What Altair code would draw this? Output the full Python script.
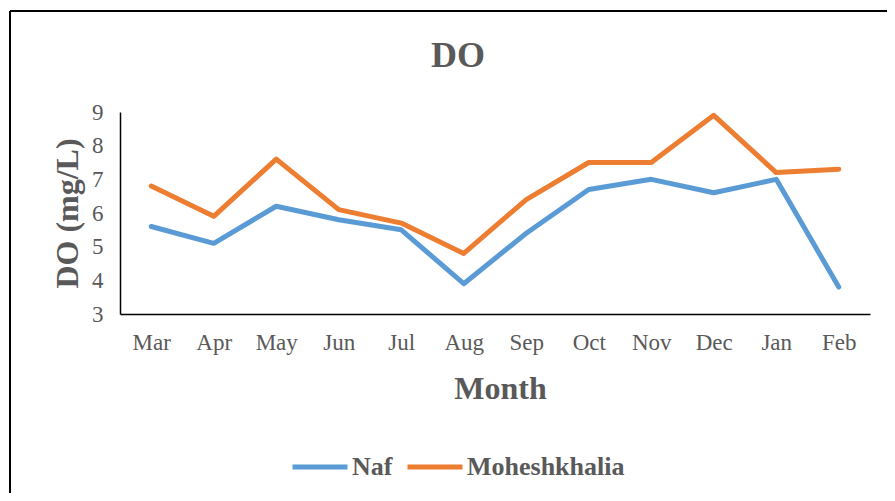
import altair as alt
import pandas as pd

months = ["Mar", "Apr", "May", "Jun", "Jul", "Aug", "Sep", "Oct", "Nov", "Dec", "Jan", "Feb"]
naf = [5.6, 5.1, 6.2, 5.8, 5.5, 3.9, 5.4, 6.7, 7.0, 6.6, 7.0, 3.8]
moheshkhalia = [6.8, 5.9, 7.6, 6.1, 5.7, 4.8, 6.4, 7.5, 7.5, 8.9, 7.2, 7.3]
series_names = ["Naf", "Moheshkhalia"]
series_colors = ["#5B9BD5", "#ED7D31"]
chart_title = "DO"

rows = []
for i, m in enumerate(months):
    rows.append({"Month": m, "Site": "Naf", "DO": naf[i], "order": i})
    rows.append({"Month": m, "Site": "Moheshkhalia", "DO": moheshkhalia[i], "order": i})
df = pd.DataFrame(rows)

FONT = "Liberation Serif"
GREY = "#595959"

lines = alt.Chart(df).mark_line(strokeWidth=5, strokeCap="round", strokeJoin="round").encode(
    x=alt.X("Month:N", sort=months, scale=alt.Scale(type="point", padding=0.5),
            axis=alt.Axis(title="Month", labelAngle=0, ticks=False, grid=False,
                          domainColor="black", domainWidth=1.5,
                          labelFont=FONT, labelFontSize=23, labelColor=GREY, labelPadding=17,
                          titleFont=FONT, titleFontSize=32, titleFontWeight="bold", titleColor=GREY,
                          titleX=380, titleY=74, titleBaseline="middle", titleAlign="center")),
    y=alt.Y("DO:Q", scale=alt.Scale(domain=[3, 9], nice=False, zero=False),
            axis=alt.Axis(title="DO (mg/L)", values=[3, 4, 5, 6, 7, 8, 9], ticks=False, grid=False,
                          domainColor="black", domainWidth=1.5,
                          labelFont=FONT, labelFontSize=23, labelColor=GREY, labelPadding=17,
                          titleFont=FONT, titleFontSize=32, titleFontWeight="bold", titleColor=GREY,
                          titleX=-53, titleY=101, titleAngle=-90, titleBaseline="middle", titleAlign="center")),
    color=alt.Color("Site:N", sort=series_names,
                    scale=alt.Scale(domain=series_names, range=series_colors),
                    legend=alt.Legend(title=None, orient="none", direction="horizontal",
                                      legendX=170, legendY=325, symbolType="stroke",
                                      symbolSize=3025, symbolStrokeWidth=5, columnPadding=4,
                                      labelFont=FONT, labelFontSize=26, labelFontWeight="bold",
                                      labelColor=GREY, labelOffset=2)),
    order="order:Q",
)

frame_data = alt.Data(values=[{"t": chart_title}])
title_text = alt.Chart(frame_data).mark_text(
    font=FONT, fontSize=36, fontWeight="bold", color=GREY, align="center", baseline="alphabetic"
).encode(text="t:N", x=alt.value(338), y=alt.value(-45))
top_border = alt.Chart(frame_data).mark_rule(color="black", strokeWidth=2).encode(
    x=alt.value(-110), x2=alt.value(780), y=alt.value(-101))
left_border = alt.Chart(frame_data).mark_rule(color="black", strokeWidth=2).encode(
    x=alt.value(-110), y=alt.value(-101), y2=alt.value(395))

chart = alt.layer(lines, title_text, top_border, left_border).properties(
    width=750, height=202,
    background="white",
    autosize=alt.AutoSizeParams(type="none"),
    padding={"left": 112, "top": 104, "right": 17, "bottom": 179},
).configure_view(stroke=None)

chart.save("out.html", embed_options={"renderer": "svg", "actions": False})
